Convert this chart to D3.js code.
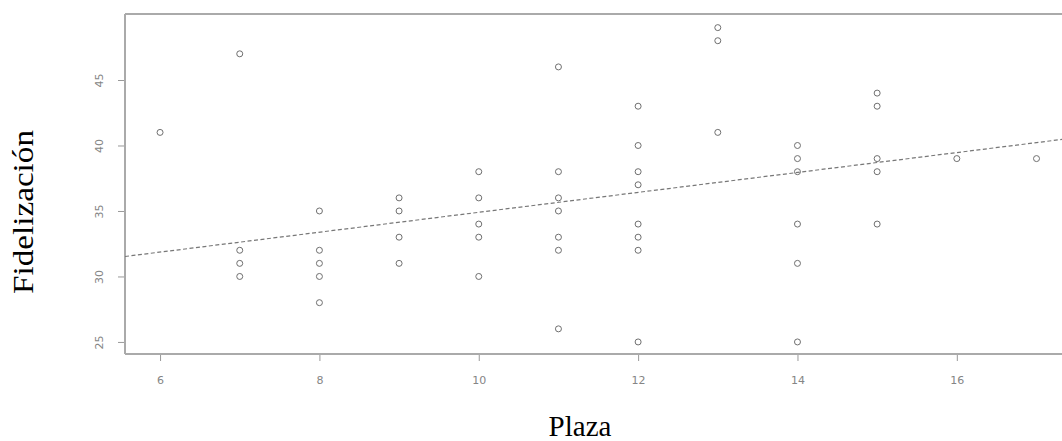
<!DOCTYPE html>
<html>
<head>
<meta charset="utf-8">
<script src="https://cdn.jsdelivr.net/npm/d3@7"></script>
<style>
  html, body { margin: 0; padding: 0; background: #fff; }
  svg { display: block; }
</style>
</head>
<body>
<svg id="chart" width="1062" height="441"></svg>
<script>
// ---- data ----
const plaza = [6,
  7, 7, 7, 7,
  8, 8, 8, 8, 8,
  9, 9, 9, 9,
  10, 10, 10, 10, 10,
  11, 11, 11, 11, 11, 11, 11,
  12, 12, 12, 12, 12, 12, 12, 12,
  13, 13, 13,
  14, 14, 14, 14, 14, 14,
  15, 15, 15, 15, 15,
  16,
  17];
const fidelizacion = [41,
  47, 32, 31, 30,
  35, 32, 31, 30, 28,
  36, 35, 33, 31,
  38, 36, 34, 33, 30,
  46, 38, 36, 35, 33, 32, 26,
  43, 40, 38, 37, 34, 33, 32, 25,
  49, 48, 41,
  40, 39, 38, 34, 31, 25,
  44, 43, 39, 38, 34,
  39,
  39];
const xTicks = [6, 8, 10, 12, 14, 16];
const yTicks = [25, 30, 35, 40, 45];
const xDomain = [5.56, 17.32];
const yDomain = [24.08, 50.04];
const trendIntercept = [27.3];
const trendSlope = [0.76];
const xTitle = "Plaza";
const yTitle = "Fidelización";

// ---- layout ----
const mLeft = 125, mRight = 1062, mTop = 14, mBottom = 354;
const svg = d3.select("#chart");
const x = d3.scaleLinear().domain(xDomain).range([mLeft, mRight]);
const y = d3.scaleLinear().domain(yDomain).range([mBottom, mTop]);

const axisColor = "#aaaaaa";
const tickText = "#858585";

svg.append("defs").append("clipPath").attr("id", "clip")
  .append("rect").attr("x", mLeft).attr("y", mTop)
  .attr("width", mRight - mLeft).attr("height", mBottom - mTop);

// x axis
const gx = svg.append("g").attr("transform", `translate(0,${mBottom})`)
  .call(d3.axisBottom(x).tickValues(xTicks).tickSize(7).tickPadding(15).tickFormat(d3.format("d")));
gx.select(".domain").remove();
gx.selectAll(".tick line").attr("stroke", "#999").attr("stroke-width", 1);
gx.selectAll(".tick text").attr("fill", tickText)
  .style("font-family", "'DejaVu Sans', sans-serif").style("font-size", "11px");

// y axis
const gy = svg.append("g").attr("transform", `translate(${mLeft},0)`)
  .call(d3.axisLeft(y).tickValues(yTicks).tickSize(7).tickPadding(0).tickFormat(d3.format("d")));
gy.select(".domain").remove();
gy.selectAll(".tick line").attr("stroke", "#999").attr("stroke-width", 1);
gy.selectAll(".tick text")
  .attr("fill", tickText)
  .attr("x", null)
  .attr("text-anchor", "middle")
  .attr("transform", "translate(-26,0) rotate(-90)")
  .attr("dy", "0.35em")
  .style("font-family", "'DejaVu Sans', sans-serif").style("font-size", "11px");

// frame (left, top, bottom)
svg.append("line").attr("x1", mLeft).attr("x2", mLeft).attr("y1", mTop).attr("y2", mBottom)
  .attr("stroke", axisColor).attr("stroke-width", 2);
svg.append("line").attr("x1", mLeft).attr("x2", mRight).attr("y1", mTop).attr("y2", mTop)
  .attr("stroke", axisColor).attr("stroke-width", 2);
svg.append("line").attr("x1", mLeft).attr("x2", mRight).attr("y1", mBottom).attr("y2", mBottom)
  .attr("stroke", axisColor).attr("stroke-width", 2);

// trend line
const tl = xDomain.map(v => [v, trendIntercept[0] + trendSlope[0] * v]);
svg.append("path")
  .attr("clip-path", "url(#clip)")
  .attr("d", d3.line().x(d => x(d[0])).y(d => y(d[1]))(tl))
  .attr("fill", "none").attr("stroke", "#777").attr("stroke-width", 1.2)
  .attr("stroke-dasharray", "4,2.5");

// points
svg.append("g").selectAll("circle")
  .data(plaza.map((p, i) => [p, fidelizacion[i]]))
  .join("circle")
  .attr("cx", d => x(d[0])).attr("cy", d => y(d[1])).attr("r", 3)
  .attr("fill", "none").attr("stroke", "#6f6f6f").attr("stroke-width", 1);

// titles
svg.append("text").attr("x", 580).attr("y", 436)
  .attr("text-anchor", "middle")
  .style("font-family", "'Liberation Serif', 'Times New Roman', serif")
  .style("font-size", "29px").attr("fill", "#000").text(xTitle);

svg.append("text")
  .attr("transform", "translate(33,212) rotate(-90)")
  .attr("text-anchor", "middle")
  .attr("textLength", 164)
  .attr("lengthAdjust", "spacingAndGlyphs")
  .style("font-family", "'Liberation Serif', 'Times New Roman', serif")
  .style("font-size", "29px").attr("fill", "#000").text(yTitle);
</script>
</body>
</html>
